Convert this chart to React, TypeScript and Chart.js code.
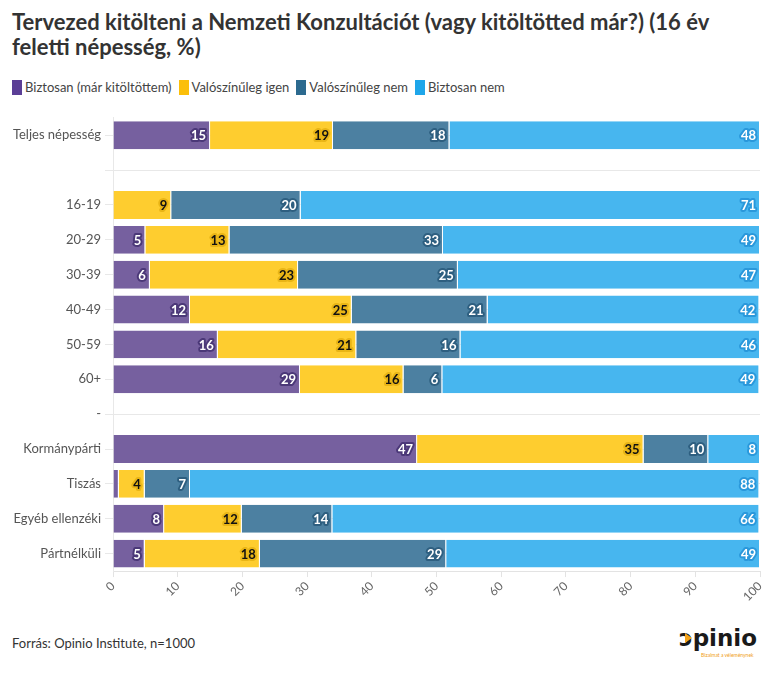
import React, { useEffect, useRef } from "react";
import { Chart, registerables } from "chart.js";
Chart.register(...registerables);

const categories = [
  "Teljes népesség",
  "",
  "16-19",
  "20-29",
  "30-39",
  "40-49",
  "50-59",
  "60+",
  "-",
  "Kormánypárti",
  "Tiszás",
  "Egyéb ellenzéki",
  "Pártnélküli",
];

const seriesNames = [
  "Biztosan (már kitöltöttem)",
  "Valószínűleg igen",
  "Valószínűleg nem",
  "Biztosan nem",
];

const biztosanIgen = [15, null, null, 5, 5.7, 11.9, 16.2, 28.9, null, 47, 0.9, 7.9, 4.9];
const valoszinulegIgen = [19, null, 9, 13, 22.9, 25, 21.4, 16, null, 35, 4, 12, 17.8];
const valoszinulegNem = [18, null, 20, 33, 24.7, 21, 16.1, 6, null, 10, 7, 14, 28.8];
const biztosanNem = [48, null, 71, 49, 46.7, 42, 46.3, 49, null, 8, 88, 66, 48.5];

const xTicks = [0, 10, 20, 30, 40, 50, 60, 70, 80, 90, 100];

const barColors = ["#76609f", "#fecd2f", "#4c80a1", "#47b6ef"];
const legendColors = ["#5b3e96", "#fbbf0a", "#2c6a8f", "#1ea6ea"];
const haloColors = ["#4b3878", "#e9b516", "#2e5f80", "#2a98db"];
const textColors = ["#ffffff", "#111111", "#ffffff", "#ffffff"];

const FONT = "Lato, 'Open Sans', sans-serif";

const labelPlugin = {
  id: "barLabels",
  afterDatasetsDraw(chart: any) {
    const ctx = chart.ctx;
    chart.data.datasets.forEach((ds: any, i: number) => {
      const meta = chart.getDatasetMeta(i);
      meta.data.forEach((bar: any, j: number) => {
        const v = ds.data[j];
        if (v == null) return;
        const p = bar.getProps(["x", "base", "y"], true);
        if (Math.abs(p.x - p.base) < 14) return;
        const txt = String(Math.round(v));
        ctx.save();
        ctx.font = "bold 13px " + FONT;
        ctx.textAlign = "right";
        ctx.textBaseline = "middle";
        ctx.lineJoin = "round";
        ctx.lineWidth = 4;
        ctx.strokeStyle = haloColors[i];
        ctx.strokeText(txt, p.x - 4, p.y + 1);
        ctx.fillStyle = textColors[i];
        ctx.fillText(txt, p.x - 4, p.y + 1);
        ctx.restore();
      });
    });
  },
};

export default function App() {
  const ref = useRef<HTMLCanvasElement | null>(null);

  useEffect(() => {
    if (!ref.current) return;
    const all = [biztosanIgen, valoszinulegIgen, valoszinulegNem, biztosanNem];
    const chart = new Chart(ref.current, {
      type: "bar",
      data: {
        labels: categories,
        datasets: all.map((d, i) => ({
          label: seriesNames[i],
          data: d,
          backgroundColor: barColors[i],
          borderColor: "#ffffff",
          borderWidth: { left: 0, right: 1, top: 0, bottom: 0 },
          borderSkipped: false,
          barPercentage: 0.8,
          categoryPercentage: 1,
        })),
      } as any,
      options: {
        indexAxis: "y",
        responsive: false,
        maintainAspectRatio: false,
        animation: false,
        layout: { padding: { top: 8, right: 21, left: 0, bottom: 0 } },
        plugins: {
          legend: { display: false },
          tooltip: { enabled: false },
        },
        scales: {
          x: {
            stacked: true,
            min: 0,
            max: 100,
            afterBuildTicks: (s: any) => {
              s.ticks = xTicks.map((v) => ({ value: v }));
            },
            ticks: {
              minRotation: 45,
              maxRotation: 45,
              color: "#666",
              font: { family: FONT, size: 12 },
              padding: 2,
            },
            grid: {
              drawOnChartArea: false,
              color: "#e3e3e3",
              tickLength: 6,
            },
            border: { color: "#e3e3e3" },
          },
          y: {
            stacked: true,
            afterFit: (s: any) => {
              s.width = 113;
            },
            ticks: {
              color: "#555",
              font: { family: FONT, size: 13 },
              padding: 4,
            },
            grid: {
              offset: false,
              color: "#e8e8e8",
              tickLength: 8,
            },
            border: { color: "#e8e8e8" },
          },
        },
      } as any,
      plugins: [labelPlugin],
    });
    return () => chart.destroy();
  }, []);

  return (
    <div
      style={{
        position: "fixed",
        left: 0,
        top: 0,
        width: 781,
        height: 674,
        background: "#fff",
        fontFamily: FONT,
        overflow: "hidden",
      }}
    >
      <div
        style={{
          position: "absolute",
          left: 12,
          top: 9,
          width: 750,
          fontSize: 22,
          fontWeight: 700,
          lineHeight: "25px",
          color: "#333",
        }}
      >
        Tervezed kitölteni a Nemzeti Konzultációt (vagy kitöltötted már?) (16 év feletti népesség, %)
      </div>
      <div
        style={{
          position: "absolute",
          left: 12,
          top: 79,
          display: "flex",
          alignItems: "center",
          fontSize: 13,
          color: "#444",
        }}
      >
        {seriesNames.map((n, i) => (
          <div key={n} style={{ display: "flex", alignItems: "center", marginRight: 7 }}>
            <span
              style={{
                display: "inline-block",
                width: 10,
                height: 15,
                background: legendColors[i],
                marginRight: 3,
              }}
            />
            <span>{n}</span>
          </div>
        ))}
      </div>
      <div style={{ position: "absolute", left: 0, top: 106, width: 781, height: 500 }}>
        <canvas ref={ref} width={781} height={500} style={{ width: 781, height: 500 }} />
      </div>
      <div style={{ position: "absolute", left: 12, top: 635, fontSize: 13, color: "#333" }}>
        Forrás: Opinio Institute, n=1000
      </div>
      <div style={{ position: "absolute", left: 679, top: 625, width: 85, height: 40 }}>
        <div
          style={{
            fontFamily: "'DejaVu Sans', sans-serif",
            fontWeight: 700,
            fontSize: 23,
            lineHeight: "26px",
            color: "#1a1a1a",
          }}
        >
          ɔpinio
        </div>
        <div
          style={{
            position: "absolute",
            left: 6,
            top: 8,
            width: 0,
            height: 0,
            borderTop: "5px solid transparent",
            borderBottom: "5px solid transparent",
            borderLeft: "7px solid #f5a31a",
          }}
        />
        <div
          style={{
            position: "absolute",
            left: 22,
            top: 27,
            fontSize: 5,
            color: "#f0a020",
            whiteSpace: "nowrap",
          }}
        >
          Bizalmat a véleménynek
        </div>
      </div>
    </div>
  );
}
